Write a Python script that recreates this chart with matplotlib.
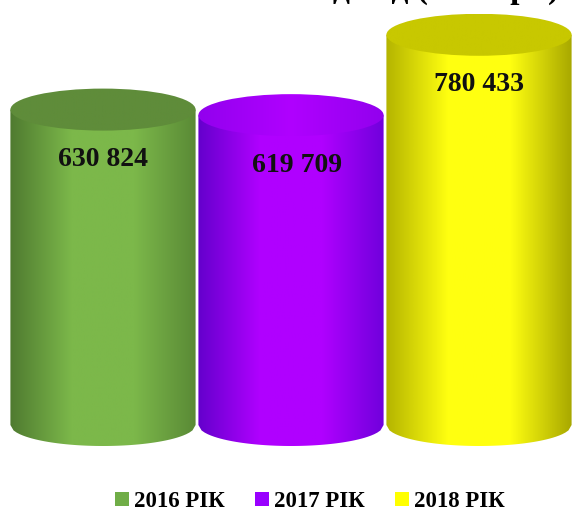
import numpy as np
import matplotlib
matplotlib.use("Agg")
import matplotlib.pyplot as plt
from matplotlib.patches import Ellipse, PathPatch, Patch
from matplotlib.path import Path
from matplotlib.colors import LinearSegmentedColormap

# data
years = ["2016 РІК", "2017 РІК", "2018 РІК"]
values = [630824, 619709, 780433]
labels = ["630 824", "619 709", "780 433"]

# colours: (edge dark, middle light, edge dark, top)
shades = [
    ("#4f7a30", "#7cb84a", "#5a8a36", "#5f8c3a"),
    ("#6400cc", "#b000ff", "#7000dc", "#9200ee"),
    ("#b4b400", "#ffff10", "#a8a800", "#c8c800"),
]
legend_cols = ["#70ad47", "#9900ff", "#ffff00"]

plt.rcParams["font.family"] = ["Liberation Serif", "DejaVu Serif"]

fig = plt.figure(figsize=(5.74, 5.16), dpi=100)
ax = fig.add_axes([0, 0, 1, 1])
px = 188.0          # pixels per bar width
upp = 2000.0        # data units per pixel in y
ax.set_xlim(-103 / px, (574 - 103) / px)
ax.set_ylim(-(516 - 425) * upp, 425 * upp)
ax.axis("off")

eh = 21 * upp       # ellipse half height in data units
bw = 0.985          # bar width

for i, v in enumerate(values):
    x0, x1 = i - bw / 2, i + bw / 2
    t = np.linspace(-1, 1, 60)
    arc_x = i + t * bw / 2
    arc_y = -eh * np.sqrt(1 - t ** 2)
    verts = [(x0, v)] + list(zip(arc_x, arc_y)) + [(x1, v), (x0, v)]
    codes = [Path.MOVETO] + [Path.LINETO] * (len(verts) - 2) + [Path.CLOSEPOLY]
    body = PathPatch(Path(verts, codes), facecolor="none", edgecolor="none")
    ax.add_patch(body)
    dark, light, dark2, top = shades[i]
    cmap = LinearSegmentedColormap.from_list("c%d" % i, [dark, light, light, dark2], N=256)
    grad = np.linspace(0, 1, 256).reshape(1, -1)
    im = ax.imshow(grad, cmap=cmap, aspect="auto", extent=[x0, x1, -eh, v],
                   interpolation="bilinear", zorder=2)
    im.set_clip_path(body)

    # top ellipse
    topc = LinearSegmentedColormap.from_list("t%d" % i, [top, light if i == 1 else top, top], N=256)
    ell = Ellipse((i, v), bw, 2 * eh, facecolor="none", edgecolor="none", zorder=3)
    ax.add_patch(ell)
    tim = ax.imshow(grad, cmap=topc, aspect="auto", extent=[x0, x1, v - eh, v + eh],
                    interpolation="bilinear", zorder=3)
    tim.set_clip_path(ell)

    ax.text(i + (0.03 if i == 1 else 0), v - eh - 29 * upp, labels[i], ha="center", va="center",
            fontsize=20, fontweight="bold", color="#111111", zorder=4)

# cut-off title at the very top (only the descenders show, as in the source)
fig.text(0.975, 1.004, "дохід (тис. грн)", ha="right", va="baseline",
         fontsize=24, fontweight="bold", color="black")

handles = [Patch(facecolor=c, edgecolor="none") for c in legend_cols]
fig.legend(handles, years, loc="center", bbox_to_anchor=(0.54, 0.028), ncol=3,
           frameon=False, handlelength=0.6, handleheight=0.6, handletextpad=0.25,
           columnspacing=1.3, prop={"family": "Liberation Serif", "weight": "bold", "size": 16.5})

fig.savefig("out.png", dpi=100)
